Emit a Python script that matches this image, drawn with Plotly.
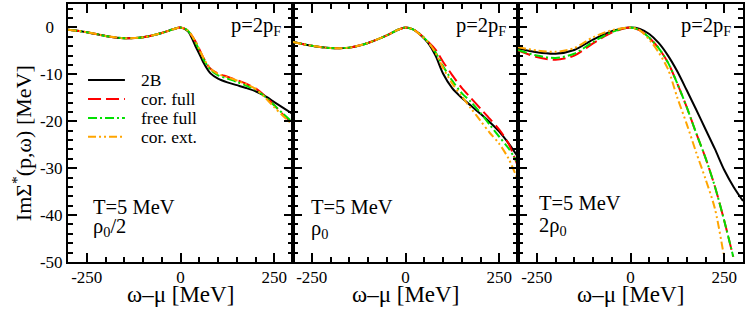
import plotly.graph_objects as go
from plotly.subplots import make_subplots

# ---------------- data ----------------
# Panel 1: rho0/2
x1 = [-300, -250, -200, -150, -100, -50, -20, 0, 20, 40, 50, 60, 80, 100, 125, 150, 175, 200, 225, 250, 275, 300]
p1_2b = [-0.5, -1.0, -1.8, -2.3, -2.1, -1.2, -0.4, 0.0, -0.8, -4.0, -5.6, -7.3, -9.8, -10.9, -11.7, -12.3, -12.9, -13.6, -14.6, -15.9, -17.2, -18.5]
p1_cf = [-0.5, -1.0, -1.8, -2.3, -2.1, -1.2, -0.4, 0.0, -0.7, -3.0, -4.6, -6.3, -8.8, -9.8, -10.5, -11.2, -12.0, -13.0, -14.6, -16.6, -18.7, -20.5]
p1_ff = [-0.5, -1.0, -1.8, -2.3, -2.1, -1.2, -0.4, 0.0, -0.7, -3.2, -4.8, -6.6, -9.0, -10.2, -10.9, -11.6, -12.4, -13.3, -14.7, -16.6, -18.5, -20.3]
p1_ce = [-0.5, -1.0, -1.8, -2.3, -2.1, -1.2, -0.4, 0.0, -0.7, -3.0, -4.6, -6.3, -8.8, -9.9, -10.6, -11.3, -12.1, -13.1, -14.9, -17.0, -19.0, -20.8]

# Panel 2: rho0
x2 = [-300, -250, -200, -150, -100, -50, -20, 0, 20, 40, 60, 80, 100, 125, 150, 175, 200, 225, 250, 275, 300]
p2_2b = [-3.1, -3.9, -4.4, -4.3, -3.3, -1.7, -0.5, 0.0, -0.4, -1.6, -3.3, -6.0, -9.8, -13.0, -15.0, -16.7, -18.4, -20.2, -22.2, -24.7, -27.6]
p2_cf = [-3.1, -3.9, -4.4, -4.3, -3.3, -1.7, -0.5, 0.0, -0.4, -1.5, -3.0, -4.7, -7.3, -10.2, -12.9, -15.1, -17.3, -19.5, -21.8, -24.8, -29.7]
p2_ff = [-3.1, -3.9, -4.4, -4.3, -3.3, -1.7, -0.5, 0.0, -0.4, -1.5, -3.1, -5.3, -8.2, -11.4, -14.0, -15.9, -18.2, -20.8, -23.3, -25.8, -29.0]
p2_ce = [-3.1, -3.9, -4.4, -4.3, -3.3, -1.7, -0.5, 0.0, -0.4, -1.6, -3.1, -5.4, -8.6, -12.0, -14.7, -17.3, -19.9, -22.5, -24.8, -28.0, -32.6]

# Panel 3: 2 rho0
x3 = [-300, -250, -200, -150, -100, -50, 0, 25, 50, 75, 100, 125, 150, 175, 200, 225, 250, 275, 300]
p3_2b = [-4.5, -5.3, -5.6, -4.8, -2.6, -0.8, 0.0, -0.3, -1.4, -3.3, -6.0, -9.4, -13.4, -17.5, -21.7, -25.9, -30.4, -34.0, -37.0]
x3_cf = [-300, -250, -200, -150, -100, -50, 0, 25, 50, 75, 100, 125, 150, 175, 200, 225, 250, 274]
p3_cf = [-4.9, -6.3, -6.9, -6.0, -3.4, -1.1, 0.0, -0.6, -2.2, -4.4, -7.5, -12.0, -17.0, -22.5, -27.8, -33.9, -41.2, -48.9]
p3_ff = [-4.8, -6.0, -6.5, -5.6, -3.1, -1.0, 0.0, -0.6, -2.2, -4.4, -7.5, -12.0, -17.0, -22.5, -27.8, -33.9, -41.2, -48.9]
x3_ce = [-300, -250, -200, -150, -100, -50, 0, 25, 50, 75, 100, 125, 150, 175, 200, 225, 248]
p3_ce = [-4.2, -4.9, -5.2, -4.4, -2.1, -0.6, 0.0, -0.6, -2.6, -5.3, -8.9, -15.0, -20.6, -26.6, -32.3, -38.6, -48.2]

series_names = ["2B", "cor. full", "free full", "cor. ext."]
density_labels = ["ρ<sub>0</sub>/2", "ρ<sub>0</sub>", "2ρ<sub>0</sub>"]
xtick_vals = [-250, 0, 250]
xtick_text = ["-250", "0", "250"]
ytick_vals = [0, -10, -20, -30, -40, -50]
ytick_text = ["0\u00a0\u00a0", "-10", "-20", "-30", "-40", "-50"]

panels = [
    [(x1, p1_2b), (x1, p1_cf), (x1, p1_ff), (x1, p1_ce)],
    [(x2, p2_2b), (x2, p2_cf), (x2, p2_ff), (x2, p2_ce)],
    [(x3, p3_2b), (x3_cf, p3_cf), (x3_cf, p3_ff), (x3_ce, p3_ce)],
]

styles = [
    dict(color="black", width=2, dash="solid"),
    dict(color="#ff0000", width=2, dash="13px,5px"),
    dict(color="#00e000", width=2, dash="9px,3px,2px,3px"),
    dict(color="#ffa500", width=2, dash="8px,3px,2px,3px,2px,3px"),
]

FONT = "Liberation Serif, Times New Roman, Times, serif"

fig = make_subplots(rows=1, cols=3, shared_yaxes=True, horizontal_spacing=0)

for col, series in enumerate(panels, start=1):
    for k, (xs, ys) in enumerate(series):
        fig.add_trace(go.Scatter(
            x=xs, y=ys, mode="lines", name=series_names[k],
            line=dict(shape="spline", smoothing=0.8, **styles[k]),
            showlegend=False, hoverinfo="skip",
        ), row=1, col=col)

axis_common = dict(
    showline=True, linecolor="black", linewidth=2, mirror="ticks",
    ticks="inside", tickwidth=2, tickcolor="black", showgrid=False, zeroline=False,
    tickfont=dict(family=FONT, size=17, color="black"),
)

for col in range(1, 4):
    fig.update_xaxes(
        range=[-300, 300], tickmode="array", tickvals=xtick_vals, ticktext=xtick_text,
        ticklen=9, ticklabelstandoff=-1,
        minor=dict(dtick=50, tick0=0, ticklen=5, ticks="inside", tickwidth=2, tickcolor="black", showgrid=False),
        row=1, col=col, **axis_common)
    fig.update_yaxes(
        range=[-50, 5], tickmode="array", tickvals=ytick_vals, ticktext=ytick_text,
        ticklen=9,
        minor=dict(dtick=2, tick0=0, ticklen=5, ticks="inside", tickwidth=2, tickcolor="black", showgrid=False),
        row=1, col=col, **axis_common)

# axis titles
fig.add_annotation(text="ImΣ<sup>*</sup>(p,ω) [MeV]", xref="paper", yref="paper", x=-0.068, y=0.461,
                   xanchor="center", yanchor="middle", textangle=-90, showarrow=False,
                   font=dict(family=FONT, size=22, color="black"))
xrefs = ["x", "x2", "x3"]
yrefs = ["y", "y2", "y3"]
for i in range(3):
    fig.add_annotation(text="ω–μ [MeV]", xref=f"{xrefs[i]} domain", yref="paper", x=0.5, y=-0.126,
                       xanchor="center", yanchor="middle", showarrow=False,
                       font=dict(family=FONT, size=23, color="black"))

# legend (drawn inside panel 1)
leg_y = [0.705, 0.632, 0.558, 0.485]
for k in range(4):
    st = styles[k]
    fig.add_shape(type="line", xref="x domain", yref="y domain", x0=0.089, x1=0.253, y0=leg_y[k], y1=leg_y[k],
                  line=dict(color=st["color"], width=2, dash=st["dash"]))
    fig.add_annotation(text=series_names[k], xref="x domain", yref="y domain", x=0.315, y=leg_y[k],
                       xanchor="left", yanchor="middle", showarrow=False,
                       font=dict(family=FONT, size=17.5, color="black"))

# panel annotations
t_x = [0.10, 0.072, 0.084]
t_y = [0.213, 0.213, 0.228]
r_y = [0.132, 0.125, 0.136]
for i in range(3):
    fig.add_annotation(text="p=2p<sub>F</sub>", xref=f"{xrefs[i]} domain", yref=f"{yrefs[i]} domain",
                       x=0.955, y=0.97, xanchor="right", yanchor="top", showarrow=False,
                       font=dict(family=FONT, size=20.5, color="black"))
    fig.add_annotation(text="T=5 MeV", xref=f"{xrefs[i]} domain", yref=f"{yrefs[i]} domain",
                       x=t_x[i], y=t_y[i], xanchor="left", yanchor="middle", showarrow=False,
                       font=dict(family=FONT, size=20.5, color="black"))
    fig.add_annotation(text=density_labels[i], xref=f"{xrefs[i]} domain", yref=f"{yrefs[i]} domain",
                       x=t_x[i], y=r_y[i], xanchor="left", yanchor="middle", showarrow=False,
                       font=dict(family=FONT, size=20.5, color="black"))

fig.update_layout(
    width=747, height=310,
    margin=dict(l=68, r=2, t=4, b=48),
    plot_bgcolor="white", paper_bgcolor="white",
    showlegend=False, hovermode=False,
)

fig.write_html("out.html", config={"displayModeBar": False},
               post_script="document.body.style.margin='0';")
